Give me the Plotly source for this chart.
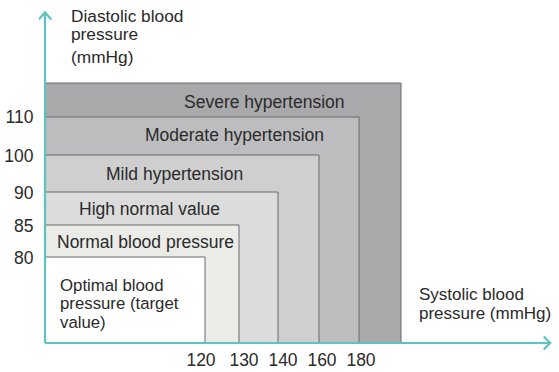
import plotly.graph_objects as go

# ---- data ----
categories = ["Severe hypertension", "Moderate hypertension", "Mild hypertension",
              "High normal value", "Normal blood pressure",
              "Optimal blood pressure (target value)"]
systolic_ticks = ["120", "130", "140", "160", "180"]
diastolic_ticks = ["80", "85", "90", "100", "110"]

# ---- layout (schematic positions, axis units; not to scale) ----
box_right = [8.9, 7.85, 6.85, 5.825, 4.85, 4.0]     # outer -> inner
box_top = [26.0, 22.6, 18.8, 15.1, 11.8, 8.6]
box_fill = ["#a9a9ab", "#bdbdbf", "#cfcfd0", "#dcdcdc", "#ebebe8", "#ffffff"]
label_pos = [(5.49, 24.1), (4.74, 20.8), (3.225, 16.9), (2.6, 13.4), (2.51, 10.1)]
x_tick_pos = [3.9, 4.975, 5.95, 6.925, 7.9]
y_tick_pos = [8.5, 11.7, 15.0, 18.7, 22.6]

teal = "#5ec4be"
txt = "#2a2a2a"
font_family = "Liberation Sans, Arial, sans-serif"

fig = go.Figure()
fig.add_trace(go.Scatter(x=[0], y=[0], mode="markers", marker=dict(opacity=0),
                         hoverinfo="skip", showlegend=False))

shapes = []
for r, t, c in zip(box_right, box_top, box_fill):
    shapes.append(dict(type="rect", xref="x", yref="y", x0=0, y0=0, x1=r, y1=t,
                       fillcolor=c, line=dict(color="#6a6a6a", width=1), layer="above"))
# axes with open arrow heads
shapes += [
    dict(type="line", xref="x", yref="y", x0=0, y0=0, x1=0, y1=33.0,
         line=dict(color=teal, width=2.2), layer="above"),
    dict(type="line", xref="x", yref="y", x0=0, y0=0, x1=12.62, y1=0,
         line=dict(color=teal, width=2.2), layer="above"),
    dict(type="path", xref="x", yref="y", path="M -0.16 32.35 L 0 33.05 L 0.16 32.35",
         line=dict(color=teal, width=2.2), layer="above"),
    dict(type="path", xref="x", yref="y", path="M 12.47 0.65 L 12.63 0 L 12.47 -0.65",
         line=dict(color=teal, width=2.2), layer="above"),
]

annotations = []
for name, (x, y) in zip(categories[:5], label_pos):
    annotations.append(dict(x=x, y=y, xref="x", yref="y", text=name, showarrow=False,
                            xanchor="center", yanchor="middle",
                            font=dict(size=17.5, color=txt, family=font_family)))
opt_lines = ["Optimal blood", "pressure (target", "value)"]
for line, y in zip(opt_lines, [5.75, 4.0, 2.1]):
    annotations.append(dict(x=0.33, y=y, xref="x", yref="y", text=line, showarrow=False,
                            xanchor="left", yanchor="middle",
                            font=dict(size=16.8, color=txt, family=font_family)))
for line, y in zip(["Diastolic blood", "pressure", "(mmHg)"], [32.7, 30.9, 28.6]):
    annotations.append(dict(x=0.6, y=y, xref="x", yref="y", text=line, showarrow=False,
                            xanchor="left", yanchor="middle",
                            font=dict(size=17.3, color=txt, family=font_family)))
for line, y in zip(["Systolic blood", "pressure (mmHg)"], [4.9, 3.0]):
    annotations.append(dict(x=9.3, y=y, xref="x", yref="y", text=line, showarrow=False,
                            xanchor="left", yanchor="middle",
                            font=dict(size=17, color=txt, family=font_family)))

fig.update_layout(
    width=559, height=372,
    margin=dict(l=39, r=3, t=6, b=22),
    paper_bgcolor="white", plot_bgcolor="white",
    shapes=shapes, annotations=annotations,
    showlegend=False,
    xaxis=dict(range=[-0.15, 12.775], showgrid=False, zeroline=False, showline=False,
               automargin=False, ticklabelstandoff=-7,
               tickvals=x_tick_pos, ticktext=systolic_ticks, ticks="outside", ticklen=1,
               tickcolor="rgba(0,0,0,0)", tickfont=dict(size=17.5, color=txt, family=font_family),
               fixedrange=True),
    yaxis=dict(range=[-0.7, 33.7], showgrid=False, zeroline=False, showline=False,
               automargin=False,
               tickvals=y_tick_pos, ticktext=diastolic_ticks, ticks="outside", ticklen=1,
               tickcolor="rgba(0,0,0,0)", tickfont=dict(size=17.5, color=txt, family=font_family),
               fixedrange=True),
)

fig.write_html("out.html", config={"displayModeBar": False},
               post_script="document.body.style.margin='0';document.body.style.overflow='hidden';")
